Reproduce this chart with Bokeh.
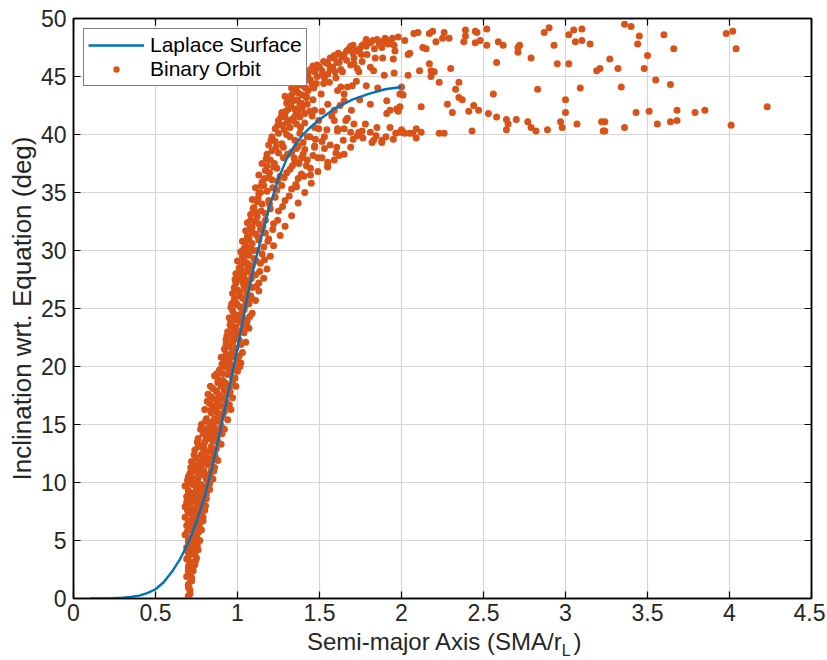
from bokeh.plotting import figure
from bokeh.models import Range1d, LinearAxis, FixedTicker, Legend, LegendItem, Div, CustomLabelingPolicy
from bokeh.layouts import column
from bokeh.embed import file_html
from bokeh.resources import INLINE

# ---------------- data ----------------
laplace_x = [0.10, 0.20, 0.30, 0.35, 0.40, 0.45, 0.50, 0.55, 0.60, 0.65, 0.70, 0.75, 0.80, 0.85, 0.90, 0.95,
             1.00, 1.05, 1.10, 1.15, 1.20, 1.25, 1.30, 1.35, 1.40, 1.45, 1.50, 1.60, 1.70, 1.80, 1.90, 2.00]
laplace_y = [0.00, 0.01, 0.06, 0.13, 0.25, 0.46, 0.80, 1.40, 2.30, 3.40, 4.80, 6.60, 8.80, 11.6, 14.8, 18.2,
             21.6, 25.3, 28.6, 31.4, 34.0, 36.2, 37.9, 39.1, 40.0, 40.7, 41.3, 42.3, 43.0, 43.5, 43.9, 44.1]

# Binary orbit samples (x = SMA/rL, y = inclination, deg)
orbit_low = [
    (0.70, 0.2), (0.71, 0.7), (0.70, 1.2), (0.72, 1.5), (0.69, 1.9), (0.71, 2.1), (0.73, 2.4), (0.70, 2.7),
    (0.74, 2.9), (0.72, 3.1), (0.69, 3.4), (0.75, 3.5), (0.71, 3.8), (0.73, 4.0), (0.76, 4.2), (0.69, 4.4),
    (0.72, 4.6), (0.74, 4.8), (0.77, 5.0), (0.70, 5.2), (0.68, 5.5), (0.73, 5.4), (0.76, 5.7), (0.78, 5.9),
    (0.71, 6.0), (0.69, 6.3), (0.74, 6.2), (0.77, 6.5), (0.79, 6.7), (0.72, 6.8), (0.68, 7.0), (0.75, 7.1),
    (0.70, 7.4), (0.78, 7.3), (0.80, 7.6), (0.73, 7.7), (0.68, 7.9), (0.76, 8.0), (0.71, 8.2), (0.79, 8.3),
    (0.81, 8.6), (0.74, 8.5), (0.69, 8.8), (0.77, 8.9), (0.72, 9.1), (0.80, 9.2), (0.83, 9.4), (0.75, 9.5),
    (0.68, 9.7), (0.71, 9.9), (0.78, 9.8), (0.82, 10.1), (0.85, 10.3), (0.74, 10.2), (0.70, 10.5), (0.77, 10.7),
    (0.80, 10.6), (0.84, 11.0), (0.73, 11.0), (0.86, 11.3), (0.76, 11.4), (0.79, 11.6), (0.82, 11.5), (0.72, 11.8),
    (0.88, 11.9), (0.75, 12.1), (0.85, 12.2), (0.78, 12.4), (0.81, 12.6), (0.74, 12.8), (0.87, 12.9), (0.84, 13.1),
    (0.77, 13.2), (0.90, 13.3), (0.80, 13.5), (0.76, 13.8), (0.83, 13.8), (0.86, 14.1), (0.89, 14.3), (0.79, 14.2),
    (0.92, 14.6), (0.82, 14.7), (0.78, 15.0), (0.85, 15.0), (0.88, 15.3), (0.94, 15.4), (0.81, 15.5), (0.91, 15.8),
    (0.84, 16.0), (0.87, 16.2), (0.80, 16.3), (0.96, 16.3), (0.90, 16.6), (0.83, 16.8), (0.93, 17.0), (0.86, 17.2),
    (0.97, 17.3), (0.89, 17.5), (0.82, 17.6), (0.92, 17.9), (0.85, 18.1), (0.95, 18.2), (0.99, 18.3), (0.88, 18.6),
    (0.91, 18.8), (0.97, 19.0), (0.86, 19.2), (0.94, 19.3), (1.00, 19.6), (0.89, 19.7), (0.92, 20.0), (0.98, 20.1),
    (1.02, 20.3), (0.95, 20.5), (0.90, 20.8), (1.01, 20.9), (0.93, 21.1), (0.97, 21.3),
    (0.71, 0.4), (0.70, 1.0), (0.72, 1.8), (0.70, 2.4), (0.73, 3.0), (0.70, 3.6), (0.74, 3.8), (0.72, 4.3),
    (0.70, 4.9), (0.75, 5.3), (0.77, 6.0), (0.70, 6.6), (0.73, 6.5), (0.76, 6.9), (0.79, 7.0), (0.71, 7.6),
    (0.74, 7.4), (0.77, 7.7), (0.69, 8.3), (0.75, 8.3), (0.78, 8.6), (0.73, 8.9), (0.81, 9.0), (0.70, 9.3),
    (0.76, 9.2), (0.79, 9.6), (0.73, 9.8), (0.83, 9.9), (0.76, 10.4), (0.81, 10.3), (0.71, 10.8), (0.83, 10.7),
    (0.78, 11.1), (0.74, 11.5), (0.84, 11.7), (0.80, 11.9), (0.77, 12.0), (0.86, 12.5), (0.83, 12.7), (0.79, 12.9),
    (0.76, 13.1), (0.88, 13.5), (0.81, 13.8), (0.85, 13.6), (0.87, 14.5), (0.80, 14.5), (0.84, 14.4), (0.90, 14.9),
    (0.83, 15.2), (0.86, 15.5), (0.92, 16.1), (0.85, 16.5), (0.88, 16.0), (0.95, 16.7), (0.88, 16.9), (0.91, 17.3),
    (0.84, 17.4), (0.94, 17.6), (0.87, 17.9), (0.90, 18.3), (0.97, 18.6), (0.93, 18.5), (0.88, 18.9), (0.96, 19.5),
    (0.91, 19.4), (0.99, 19.8), (0.94, 20.2), (1.00, 20.6), (0.92, 20.5), (0.96, 20.8), (1.03, 21.2),
    (0.705, 0.9), (0.715, 1.6), (0.705, 2.9), (0.725, 2.6), (0.745, 3.3), (0.695, 4.1), (0.715, 4.4), (0.755, 4.6),
    (0.735, 5.0), (0.695, 5.8), (0.745, 5.6), (0.765, 6.3), (0.705, 6.2), (0.725, 7.2), (0.785, 6.9), (0.745, 7.8),
    (0.695, 7.6), (0.805, 8.0), (0.765, 8.4), (0.725, 8.6), (0.705, 9.0), (0.795, 8.8), (0.745, 9.2), (0.815, 9.7),
    (0.765, 9.9), (0.695, 10.2), (0.725, 10.4), (0.835, 10.5), (0.795, 11.0), (0.755, 10.9), (0.715, 11.3),
    (0.855, 11.0), (0.775, 11.8), (0.815, 12.1), (0.735, 12.4), (0.865, 12.2), (0.795, 13.0), (0.845, 12.9),
    (0.755, 13.5), (0.875, 13.8), (0.825, 14.1), (0.775, 14.6), (0.905, 14.2), (0.855, 14.8), (0.805, 15.3),
    (0.895, 15.5), (0.835, 16.2), (0.925, 16.5), (0.865, 16.6), (0.815, 17.0), (0.905, 17.2), (0.955, 17.8),
    (0.875, 17.8), (0.835, 18.3), (0.925, 18.6), (0.985, 19.0), (0.875, 19.4), (0.945, 19.8), (0.905, 20.2),
    (1.015, 20.0), (0.965, 21.0), (0.935, 20.9),
]

orbit_mid = [
    (0.92, 21.5), (0.95, 21.7), (0.99, 21.6), (1.02, 21.9), (1.05, 22.1), (0.93, 22.3), (0.97, 22.4), (1.00, 22.7),
    (1.04, 22.9), (0.94, 23.0), (1.07, 23.3), (0.96, 23.5), (0.99, 23.4), (1.02, 23.8), (1.06, 24.0), (0.95, 24.2),
    (0.98, 24.5), (1.01, 24.4), (1.09, 24.6), (1.04, 24.9), (0.96, 25.1), (1.00, 25.3), (1.07, 25.4), (0.98, 25.8),
    (1.03, 25.9), (1.11, 25.7), (1.06, 26.2), (0.97, 26.3), (1.00, 26.6), (1.09, 26.8), (1.13, 26.5), (1.04, 26.9),
    (0.99, 27.2), (1.02, 27.5), (1.07, 27.4), (1.16, 27.6), (1.11, 27.9), (0.99, 28.0), (1.05, 28.2), (1.02, 28.6),
    (1.18, 28.4), (1.09, 28.7), (1.14, 28.9), (1.00, 29.1), (1.04, 29.3), (1.07, 29.6), (1.20, 29.5), (1.02, 29.9),
    (1.12, 30.0), (1.16, 30.3), (1.05, 30.4), (1.09, 30.6), (1.22, 30.4), (1.03, 30.8), (1.07, 31.1), (1.19, 31.0),
    (1.26, 31.3), (1.11, 31.4), (1.05, 31.7), (1.14, 31.8), (1.09, 32.0), (1.29, 32.1), (1.22, 32.3), (1.06, 32.4),
    (1.17, 32.6), (1.12, 32.9), (1.08, 33.1), (1.33, 33.0), (1.25, 33.4), (1.20, 33.6), (1.10, 33.7), (1.15, 34.0),
    (1.37, 34.1), (1.29, 34.3), (1.09, 34.4), (1.23, 34.6), (1.13, 34.9), (1.18, 35.1), (1.41, 35.0), (1.33, 35.3),
    (1.11, 35.4), (1.27, 35.6), (1.15, 35.9), (1.45, 35.8), (1.21, 36.1), (1.37, 36.2), (1.13, 36.5), (1.30, 36.7),
    (1.17, 36.9), (1.49, 36.8), (1.24, 37.1), (1.42, 37.3), (1.15, 37.5), (1.20, 37.8), (1.35, 37.7), (1.55, 37.6),
    (1.28, 38.0), (1.18, 38.3), (1.46, 38.2), (1.60, 38.4),
    (0.93, 21.9), (0.97, 22.1), (1.01, 22.3), (0.95, 22.8), (0.98, 23.1), (1.04, 23.5), (0.96, 23.9), (1.00, 24.1),
    (1.03, 24.3), (0.97, 24.8), (1.02, 25.1), (1.05, 25.6), (0.99, 25.5), (1.01, 26.1), (1.08, 26.1), (0.98, 26.8),
    (1.06, 27.0), (1.01, 27.8), (1.04, 27.7), (1.13, 27.2), (1.08, 28.1), (1.01, 28.5), (1.06, 28.9), (1.03, 29.5),
    (1.10, 29.3), (1.15, 29.7), (1.08, 30.1), (1.04, 30.2), (1.13, 30.9), (1.06, 31.2), (1.09, 31.6), (1.17, 31.5),
    (1.08, 32.6), (1.13, 32.3), (1.11, 33.3), (1.17, 33.2), (1.12, 34.2), (1.19, 34.3), (1.14, 35.0), (1.24, 35.2),
    (1.16, 35.6), (1.19, 36.3), (1.26, 36.4), (1.18, 37.3), (1.22, 37.2), (1.32, 37.0), (1.21, 38.6), (1.25, 38.4),
    (1.39, 38.0),
    (0.935, 22.6), (0.985, 22.9), (1.025, 23.1), (0.955, 23.6), (1.055, 23.7), (0.985, 24.0), (1.075, 24.3),
    (1.025, 24.6), (0.965, 25.4), (1.045, 25.2), (1.085, 25.9), (1.015, 26.4), (0.985, 27.5), (1.055, 26.6),
    (1.115, 26.9), (1.035, 27.2), (1.085, 27.6), (1.025, 28.1), (1.135, 28.2), (1.065, 28.5), (1.035, 28.9),
    (1.115, 29.1), (1.055, 29.8), (1.165, 29.2), (1.095, 30.0), (1.185, 30.8), (1.055, 30.9), (1.125, 31.2),
    (1.215, 31.8), (1.075, 31.9), (1.155, 32.1), (1.105, 32.5), (1.245, 32.6), (1.145, 33.4), (1.095, 33.6),
    (1.275, 33.8), (1.195, 34.0), (1.125, 34.5), (1.315, 34.7), (1.215, 35.4), (1.145, 35.6), (1.355, 35.7),
    (1.245, 36.0), (1.165, 36.2), (1.405, 36.4), (1.285, 36.3), (1.195, 36.7), (1.335, 37.3), (1.225, 37.5),
    (1.445, 37.1), (1.175, 37.9), (1.305, 38.3), (1.515, 38.0), (1.235, 38.9),
]

orbit_arc = [
    (1.19, 39.1), (1.23, 39.4), (1.27, 39.2), (1.21, 39.8), (1.25, 40.1), (1.30, 40.0), (1.23, 40.5), (1.27, 40.8),
    (1.32, 40.6), (1.36, 40.9), (1.25, 41.2), (1.29, 41.5), (1.34, 41.4), (1.27, 41.9), (1.31, 42.2), (1.37, 42.0),
    (1.30, 42.7), (1.34, 42.9), (1.39, 42.7), (1.33, 43.4), (1.37, 43.6), (1.42, 43.3), (1.36, 44.1), (1.40, 44.2),
    (1.445, 44.7), (1.48, 44.4), (1.39, 44.8), (1.43, 45.2), (1.47, 45.4), (1.52, 45.1), (1.46, 45.9), (1.50, 45.8),
    (1.55, 45.2), (1.54, 46.2), (1.58, 45.8), (1.59, 46.6), (1.62, 46.2), (1.65, 46.9), (1.69, 46.0), (1.68, 47.4),
    (1.73, 45.7), (1.72, 47.2), (1.76, 47.7), (1.79, 46.9), (1.81, 45.8), (1.81, 47.9), (1.85, 48.2), (1.88, 47.5),
    (1.90, 48.3), (1.93, 48.1), (1.96, 47.2), (1.98, 48.4), (1.84, 46.6), (1.76, 46.3), (1.71, 46.6), (1.64, 45.4),
    (1.60, 44.9), (1.56, 44.5), (1.59, 46.8), (1.69, 47.6), (1.78, 47.9), (1.87, 48.0), (1.92, 47.8), (1.95, 46.5),
    (1.55, 46.1), (1.47, 45.5), (1.53, 44.9), (1.63, 45.6), (1.71, 46.1), (1.83, 45.5), (1.74, 45.4), (1.67, 44.1),
    (1.61, 43.8), (1.65, 42.9), (1.55, 42.6), (1.51, 43.5), (1.59, 42.1), (1.47, 42.1), (1.67, 41.4), (1.61, 40.5),
    (1.74, 40.2), (1.82, 39.3), (1.88, 39.3), (1.93, 40.6), (1.99, 40.2), (1.99, 42.4), (1.91, 42.9), (1.99, 43.5),
    (1.91, 41.8), (1.47, 40.6), (1.38, 40.1), (1.47, 38.9), (1.53, 39.8), (1.40, 38.3), (1.49, 38.0), (1.55, 37.2),
    (1.59, 37.8), (1.65, 38.3), (1.69, 38.9), (1.38, 42.6), (1.42, 43.2), (1.41, 41.8), (1.34, 41.2), (1.32, 39.8),
    (1.36, 38.8), (1.47, 39.0), (1.53, 38.8), (1.55, 37.3), (1.62, 38.2), (1.445, 36.5), (1.39, 36.6), (1.36, 35.5),
    (1.63, 44.1), (1.70, 44.2), (1.65, 43.5), (1.59, 41.2), (1.66, 41.2), (1.65, 40.5), (1.69, 40.2), (1.73, 39.9),
    (1.76, 40.3), (1.81, 40.2), (1.83, 39.5), (1.88, 39.5), (1.95, 39.6), (2.01, 40.2), (2.05, 40.1), (1.81, 42.6),
    (1.93, 42.1), (1.97, 42.2), (2.00, 43.5), (1.85, 40.6), (1.78, 40.9), (1.71, 40.9), (1.61, 40.3),
    (1.29, 43.3), (1.33, 44.0), (1.35, 42.2), (1.38, 41.5), (1.41, 41.0), (1.44, 42.0), (1.46, 43.0), (1.43, 43.8),
    (1.30, 41.0), (1.35, 39.5), (1.40, 39.3), (1.44, 39.8), (1.41, 38.7), (1.28, 38.9), (1.33, 38.5), (1.37, 39.0),
    (1.205, 39.5), (1.285, 40.4), (1.245, 40.8), (1.315, 41.2), (1.265, 41.5), (1.355, 41.7), (1.295, 42.0),
    (1.325, 42.5), (1.365, 43.0), (1.305, 43.0), (1.395, 43.4), (1.345, 43.7), (1.415, 44.0), (1.375, 44.4),
    (1.455, 44.3), (1.425, 44.7), (1.485, 45.0), (1.405, 45.0), (1.445, 45.6), (1.515, 45.5), (1.485, 46.0),
    (1.565, 45.6), (1.525, 46.3), (1.605, 46.2), (1.565, 46.6), (1.635, 46.7), (1.665, 47.2), (1.615, 47.0),
    (1.705, 47.0), (1.745, 47.4), (1.705, 47.7), (1.785, 47.6), (1.825, 48.1), (1.785, 48.2), (1.865, 47.8),
    (1.905, 47.9), (1.945, 48.3), (1.955, 47.7), (1.835, 47.4), (1.755, 46.9), (1.665, 46.4), (1.595, 45.4),
    (1.525, 44.4), (1.465, 44.0), (1.395, 42.3), (1.425, 42.6), (1.455, 41.6), (1.495, 41.2), (1.385, 40.6),
    (1.425, 39.8), (1.475, 39.6), (1.515, 39.4), (1.565, 39.1), (1.605, 38.9), (1.645, 39.5), (1.705, 39.6),
    (1.765, 39.7), (1.845, 39.9), (1.905, 39.8), (1.965, 40.1), (1.545, 40.4), (1.575, 41.6), (1.625, 42.5),
    (1.695, 42.1), (1.745, 43.0), (1.785, 44.2), (1.855, 44.0), (1.895, 45.1), (1.955, 45.3), (1.885, 46.6),
    (1.725, 44.6), (1.515, 42.0), (1.495, 40.5), (1.345, 38.0), (1.375, 37.5), (1.425, 37.8),
]

orbit_far = [
    (2.02, 48.1), (2.075, 48.7), (2.10, 48.8), (2.17, 48.7), (2.19, 48.9), (2.26, 48.8), (2.25, 48.3), (2.29, 48.3),
    (2.39, 49.0), (2.39, 48.5), (2.38, 48.0), (2.45, 48.9), (2.46, 48.8), (2.45, 47.9), (2.48, 48.1), (2.52, 49.1),
    (2.52, 47.7), (2.59, 48.0), (2.62, 47.7), (2.71, 47.5), (2.71, 47.1), (2.72, 47.7), (2.87, 48.8), (2.90, 49.2),
    (2.93, 47.7), (3.02, 48.6), (3.05, 49.0), (3.10, 49.1), (3.06, 48.0), (3.10, 48.1), (3.15, 47.8), (2.13, 47.5),
    (2.15, 47.4), (2.04, 46.9), (2.05, 47.0), (2.21, 48.0), (2.17, 46.1), (2.11, 45.5), (2.18, 45.5), (2.20, 45.4),
    (2.18, 45.0), (2.04, 45.1), (2.30, 45.7), (2.58, 46.2), (2.79, 46.6), (2.95, 46.1), (3.02, 46.1), (3.19, 45.5),
    (3.21, 45.7), (2.23, 44.5), (2.35, 44.5), (2.33, 43.9), (2.35, 43.2), (2.37, 43.0), (2.00, 44.1), (2.01, 43.4),
    (2.56, 43.5), (2.83, 43.9), (3.09, 44.0), (3.00, 43.0), (2.28, 42.6), (2.12, 42.4), (1.98, 42.0), (2.31, 41.9),
    (2.41, 42.0), (2.44, 42.5), (2.47, 42.1), (2.53, 41.8), (2.58, 41.5), (2.64, 41.3), (2.65, 40.9), (2.64, 40.4),
    (2.70, 41.3), (2.77, 41.1), (2.79, 40.6), (2.82, 40.3), (2.89, 40.4), (2.97, 41.1), (2.98, 40.6), (3.00, 41.9),
    (3.07, 40.9), (3.22, 41.1), (3.23, 40.3), (2.43, 40.3), (2.23, 40.1), (2.26, 40.1), (2.12, 40.2), (2.09, 40.5),
    (2.07, 40.1), (2.09, 39.7), (2.02, 40.1), (2.00, 40.4),
    (3.36, 49.5), (3.40, 49.3), (3.45, 48.5), (3.60, 48.6), (3.44, 47.8), (3.66, 47.4), (3.98, 48.7), (4.02, 48.9),
    (4.04, 47.4), (3.50, 46.8), (3.27, 46.5), (3.32, 45.7), (3.48, 45.7), (3.55, 44.7), (3.64, 44.3), (3.34, 44.1),
    (4.23, 42.4), (3.43, 41.9), (3.51, 42.0), (3.68, 42.1), (3.79, 41.9), (3.85, 42.1), (3.24, 41.1), (3.56, 40.9),
    (3.64, 41.1), (3.68, 41.2), (3.36, 40.6), (4.01, 40.8), (3.24, 40.3),
]

x_ticks = [0, 0.5, 1, 1.5, 2, 2.5, 3, 3.5, 4, 4.5]
x_tick_labels = ["0", "0.5", "1", "1.5", "2", "2.5", "3", "3.5", "4", "4.5"]
y_ticks = [0, 5, 10, 15, 20, 25, 30, 35, 40, 45, 50]
y_tick_labels = ["0", "5", "10", "15", "20", "25", "30", "35", "40", "45", "50"]

x_label_html = ('Semi-major Axis (SMA/r<span style="font-size:16px; position:relative; top:6px">L</span>'
                '<span style="padding-left:3px">)</span>')
y_label = "Inclination wrt. Equation (deg)"
legend_labels = ["Laplace Surface", "Binary Orbit"]

# ---------------- styling ----------------
FONT = "Liberation Sans"
TXT = "#262626"
ORANGE = "#D95319"
BLUE = "#0072BD"

pts = orbit_low + orbit_mid + orbit_arc + orbit_far
ox = [q[0] for q in pts]
oy = [q[1] for q in pts]

p = figure(frame_width=738, frame_height=580,
           min_border_left=73, min_border_right=14, min_border_top=18, min_border_bottom=30,
           x_range=Range1d(0, 4.5), y_range=Range1d(0, 50),
           output_backend="svg", toolbar_location=None, background_fill_color="white")

sc = p.scatter(ox, oy, size=7, color=ORANGE, line_color=None)
ln = p.line(laplace_x, laplace_y, line_width=2.4, color=BLUE)

p.xaxis.ticker = FixedTicker(ticks=x_ticks)
p.yaxis.ticker = FixedTicker(ticks=y_ticks)
p.xaxis.major_label_overrides = {t: s for t, s in zip(x_ticks, x_tick_labels)}
p.yaxis.major_label_overrides = {t: s for t, s in zip(y_ticks, y_tick_labels)}

for ax in [p.xaxis[0], p.yaxis[0]]:
    ax.major_tick_in = 7
    ax.major_tick_out = 0
    ax.minor_tick_line_color = None
    ax.axis_line_width = 1.5
    ax.axis_line_color = "black"
    ax.major_tick_line_color = "black"
    ax.major_tick_line_width = 1.2
    ax.major_label_text_font = FONT
    ax.major_label_text_font_size = "23px"
    ax.major_label_text_color = TXT

p.xaxis.major_label_standoff = 5
p.yaxis.major_label_standoff = 7
p.yaxis.axis_label = y_label
p.yaxis.axis_label_text_font = FONT
p.yaxis.axis_label_text_font_size = "26px"
p.yaxis.axis_label_text_font_style = "normal"
p.yaxis.axis_label_text_color = TXT
p.yaxis.axis_label_standoff = 1

hide_labels = CustomLabelingPolicy(code="""
for (const i of [...indices]) { indices.unset(i) }
return indices
""")

for loc, ticks in [("right", y_ticks), ("above", x_ticks)]:
    ax = LinearAxis(ticker=FixedTicker(ticks=ticks), major_label_policy=hide_labels,
                    major_label_text_font_size="0px",
                    major_label_standoff=0, major_tick_in=7, major_tick_out=0,
                    minor_tick_line_color=None, axis_line_width=1.5, axis_line_color="black",
                    major_tick_line_color="black", major_tick_line_width=1.2)
    p.add_layout(ax, loc)

p.grid.grid_line_color = "#d6d6d6"
p.grid.grid_line_width = 1.2
p.outline_line_color = "black"
p.outline_line_width = 1.5

legend = Legend(items=[LegendItem(label=legend_labels[0], renderers=[ln]),
                       LegendItem(label=legend_labels[1], renderers=[sc])],
                location="top_left", margin=10, padding=4, spacing=0,
                glyph_width=56, glyph_height=16, label_height=16, label_standoff=6,
                label_text_font=FONT, label_text_font_size="21px", label_text_color="black",
                border_line_color="black", border_line_width=1.5, background_fill_alpha=1.0)
p.add_layout(legend, "center")

xlabel = Div(text=x_label_html, width=827, height=32,
             styles={"font-family": FONT, "font-size": "24px", "color": TXT,
                     "padding-left": "302px", "line-height": "18px", "white-space": "nowrap"})

layout = column(p, xlabel, spacing=0)
open("out.html", "w").write(file_html(layout, INLINE))
